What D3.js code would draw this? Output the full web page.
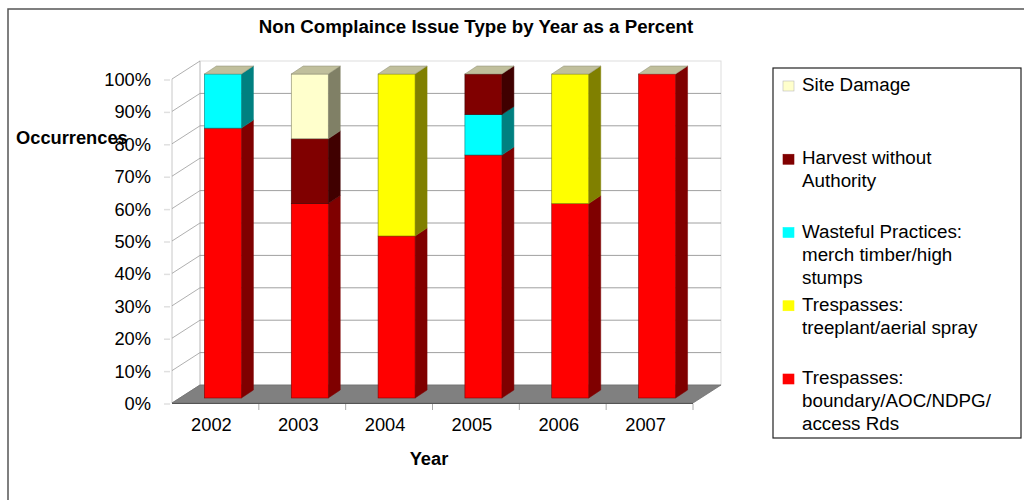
<!DOCTYPE html>
<html><head><meta charset="utf-8">
<script src="https://cdn.jsdelivr.net/npm/d3@7"></script>
<style>html,body{margin:0;padding:0;background:#fff;}svg{display:block;font-family:"Liberation Sans",Arial,sans-serif;}</style>
</head><body><svg id="c" width="1024" height="500"></svg>
<script>
const years = ["2002","2003","2004","2005","2006","2007"];
const boundary   = [83.3, 60, 50, 75, 60, 100];
const treeplant  = [0, 0, 50, 0, 40, 0];
const wasteful   = [16.7, 0, 0, 12.5, 0, 0];
const harvest    = [0, 20, 0, 12.5, 0, 0];
const siteDamage = [0, 20, 0, 0, 0, 0];
const seriesKeys = ["boundary","treeplant","wasteful","harvest","siteDamage"];
const seriesLabels = {
  boundary: ["Trespasses:","boundary/AOC/NDPG/","access Rds"],
  treeplant: ["Trespasses:","treeplant/aerial spray"],
  wasteful: ["Wasteful Practices:","merch timber/high","stumps"],
  harvest: ["Harvest without","Authority"],
  siteDamage: ["Site Damage"]
};
const frontColors = {boundary:"#ff0000",treeplant:"#ffff00",wasteful:"#00ffff",harvest:"#800000",siteDamage:"#ffffcc"};
const sideColors  = {boundary:"#7f0000",treeplant:"#808000",wasteful:"#008080",harvest:"#400000",siteDamage:"#808066"};
const yTicks = [0,10,20,30,40,50,60,70,80,90,100];
const yTickLabels = ["0%","10%","20%","30%","40%","50%","60%","70%","80%","90%","100%"];

const table = years.map((y,i)=>({year:y, boundary:boundary[i], treeplant:treeplant[i], wasteful:wasteful[i], harvest:harvest[i], siteDamage:siteDamage[i]}));
const stacked = d3.stack().keys(seriesKeys)(table);

const svg = d3.select("#c");
const x = d3.scaleBand().domain(years).range([172, 693]);
const y = d3.scaleLinear().domain([0,100]).range([403, 79]);
const DX = 28, DY = -18;           // floor depth
const bfx = 7.5, bfy = -5;         // bar front offset
const bdx = 12, bdy = -8;          // bar depth
const barW = 37;

// outer border
svg.append("rect").attr("x",8).attr("y",9).attr("width",1100).attr("height",600)
  .attr("fill","none").attr("stroke","#555").attr("stroke-width",1.5);

// title
svg.append("text").attr("x",476).attr("y",33).attr("text-anchor","middle")
  .attr("font-weight","bold").attr("font-size",18.7).text("Non Complaince Issue Type by Year as a Percent");

// back wall
const x0 = x.range()[0], x1 = x.range()[1];
svg.append("rect").attr("x",x0+DX).attr("y",y(100)+DY).attr("width",x1-x0).attr("height",y(0)-y(100))
  .attr("fill","#fff").attr("stroke","#ddd").attr("stroke-width",1);
// left wall edges
svg.append("line").attr("x1",x0).attr("x2",x0).attr("y1",y(100)).attr("y2",y(0)).attr("stroke","#c8c8c8");
svg.append("line").attr("x1",x0+DX).attr("x2",x0+DX).attr("y1",y(100)+DY).attr("y2",y(0)+DY).attr("stroke","#c8c8c8");
// gridlines
const g = svg.append("g");
yTicks.forEach(v=>{
  g.append("line").attr("x1",x0).attr("y1",y(v)).attr("x2",x0+DX).attr("y2",y(v)+DY).attr("stroke","#9a9a9a").attr("stroke-width",0.8);
  if(v>0 && v<100) g.append("line").attr("x1",x0+DX).attr("y1",y(v)+DY).attr("x2",x1+DX).attr("y2",y(v)+DY).attr("stroke","#a0a0a0").attr("stroke-width",1);
  g.append("line").attr("x1",x0-8).attr("y1",y(v)+1).attr("x2",x0-2).attr("y2",y(v)+1).attr("stroke","#e0e0e0").attr("stroke-width",1.5);
});
// floor
svg.append("polygon").attr("points",[[x0,y(0)],[x1,y(0)],[x1+DX,y(0)+DY],[x0+DX,y(0)+DY]].map(p=>p.join(",")).join(" "))
  .attr("fill","#808080").attr("stroke","#707070").attr("stroke-width",0.8);
svg.append("line").attr("x1",x0).attr("x2",x1).attr("y1",y(0)+0.5).attr("y2",y(0)+0.5).attr("stroke","#555").attr("stroke-width",1.2);
// category ticks
years.forEach((yr,i)=>{
  const tx = x(yr)+x.bandwidth();
  svg.append("line").attr("x1",tx).attr("x2",tx).attr("y1",y(0)+1).attr("y2",y(0)+7).attr("stroke","#aaa");
});

// bars
const bars = svg.append("g");
years.forEach((yr,i)=>{
  const bx = x(yr)+x.bandwidth()/2 + bfx - barW/2;
  const bxR = bx + barW;
  stacked.forEach(s=>{
    const d = s[i];
    if(d[1]-d[0] <= 0) return;
    const yb = y(d[0])+bfy, yt = y(d[1])+bfy;
    bars.append("polygon").attr("points",[[bxR,yb],[bxR+bdx,yb+bdy],[bxR+bdx,yt+bdy],[bxR,yt]].map(p=>p.join(",")).join(" "))
      .attr("fill",sideColors[s.key]).attr("stroke",sideColors[s.key]).attr("stroke-width",0.5);
    bars.append("rect").attr("x",bx).attr("y",yt).attr("width",barW).attr("height",yb-yt)
      .attr("fill",frontColors[s.key]).attr("stroke",sideColors[s.key]).attr("stroke-width",0.6);
  });
  const top = d3.max(stacked, s=>s[i][1]);
  const yt = y(top)+bfy;
  bars.append("polygon").attr("points",[[bx,yt],[bxR,yt],[bxR+bdx,yt+bdy],[bx+bdx,yt+bdy]].map(p=>p.join(",")).join(" "))
    .attr("fill","#c0bf9c").attr("stroke","#8a8a70").attr("stroke-width",0.5);
});

// y tick labels
svg.append("g").selectAll("text").data(yTicks).join("text")
  .attr("x",151).attr("y",d=>y(d)+7).attr("text-anchor","end").attr("font-size",18.3)
  .text((d,i)=>yTickLabels[i]);
// x labels
svg.append("g").selectAll("text").data(years).join("text")
  .attr("x",d=>x(d)+x.bandwidth()/2-4).attr("y",431).attr("text-anchor","middle").attr("font-size",18.3).text(d=>d);
// axis titles
svg.append("text").attr("x",429).attr("y",465).attr("text-anchor","middle").attr("font-weight","bold").attr("font-size",18.3).text("Year");
svg.append("text").attr("x",16).attr("y",144).attr("font-weight","bold").attr("font-size",18.3).text("Occurrences");

// legend
svg.append("rect").attr("x",773).attr("y",68).attr("width",248).attr("height",370).attr("fill","#fff").attr("stroke","#222").attr("stroke-width",1.2);
const legendOrder = seriesKeys.slice().reverse();
legendOrder.forEach((k,i)=>{
  const base = 91 + i*73.25;
  svg.append("rect").attr("x",783).attr("y",base-10).attr("width",11).attr("height",10)
    .attr("fill",frontColors[k]).attr("stroke",k==="siteDamage"?"#bbb":frontColors[k]).attr("stroke-width",0.6);
  const t = svg.append("text").attr("x",802).attr("y",base).attr("font-size",18.8);
  seriesLabels[k].forEach((ln,j)=>{
    t.append("tspan").attr("x",802).attr("y",base+j*23).text(ln);
  });
});
</script></body></html>
